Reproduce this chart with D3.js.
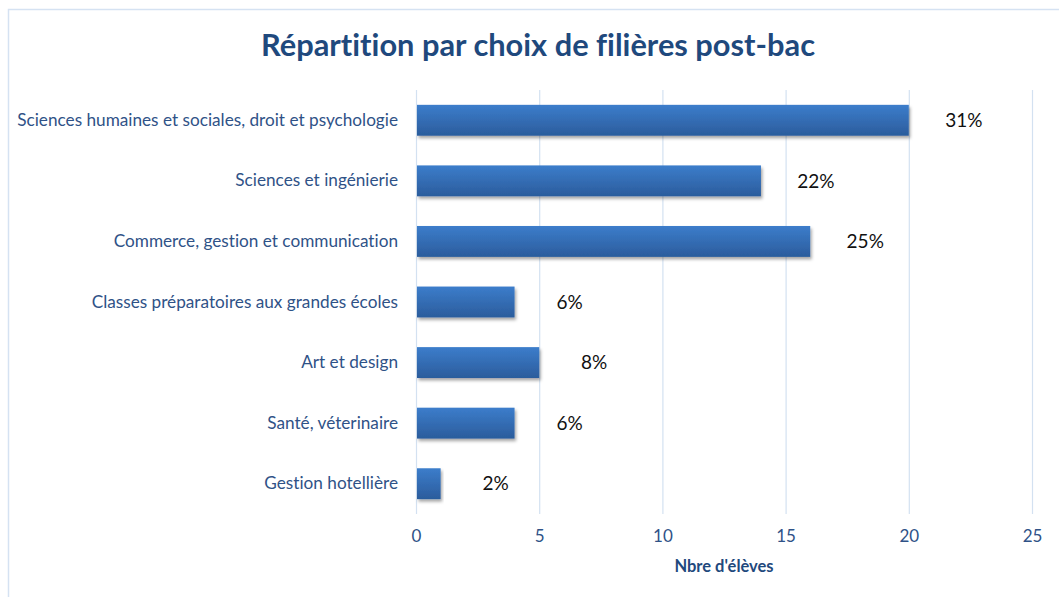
<!DOCTYPE html>
<html>
<head>
<meta charset="utf-8">
<script src="https://cdn.jsdelivr.net/npm/d3@7"></script>
<style>
  html, body { margin: 0; padding: 0; background: #fff; }
  svg { display: block; font-family: Lato, "Open Sans", sans-serif; font-variant-ligatures: none; }
</style>
</head>
<body>
<svg id="chart" width="1059" height="597"></svg>
<script>
// données
const categories = [
  "Sciences humaines et sociales, droit et psychologie",
  "Sciences et ingénierie",
  "Commerce, gestion et communication",
  "Classes préparatoires aux grandes écoles",
  "Art et design",
  "Santé, véterinaire",
  "Gestion hotellière"
];
const eleves = [20, 14, 16, 4, 5, 4, 1];
const pourcentages = ["31%", "22%", "25%", "6%", "8%", "6%", "2%"];
const ticks = [0, 5, 10, 15, 20, 25];

const svg = d3.select("#chart");
const m = { left: 416, right: 1032, top: 90, bottom: 514 };

const x = d3.scaleLinear().domain([0, 25]).range([m.left, m.right]);
const y = d3.scaleBand().domain(categories).range([m.top, m.bottom]).paddingInner(0.49).paddingOuter(0.245);

// cadre
svg.append("rect").attr("x", 8.5).attr("y", 9.5).attr("width", 1100).attr("height", 700)
  .attr("fill", "none").attr("stroke", "#d5e2f2").attr("stroke-width", 1.5);

const defs = svg.append("defs");
const grad = defs.append("linearGradient").attr("id", "barGrad").attr("x1", 0).attr("y1", 0).attr("x2", 0).attr("y2", 1);
grad.append("stop").attr("offset", "0%").attr("stop-color", "#3c7dcb");
grad.append("stop").attr("offset", "100%").attr("stop-color", "#2b5c9c");
const shadow = defs.append("filter").attr("id", "shadow").attr("x", "-5%").attr("y", "-20%").attr("width", "115%").attr("height", "160%");
shadow.append("feDropShadow").attr("dx", 1.5).attr("dy", 2.5).attr("stdDeviation", 1.6)
  .attr("flood-color", "#000").attr("flood-opacity", 0.35);

// titre
svg.append("text").attr("x", 538).attr("y", 56).attr("text-anchor", "middle")
  .attr("font-size", 30.8).attr("font-weight", "bold").attr("fill", "#1f497d")
  .text("Répartition par choix de filières post-bac");

// grille
svg.append("g").selectAll("line").data(ticks).join("line")
  .attr("x1", d => x(d) + 0.5).attr("x2", d => x(d) + 0.5)
  .attr("y1", m.top).attr("y2", m.bottom)
  .attr("stroke", "#d3e1f1").attr("stroke-width", 1.2);

// axe x
const xAxis = svg.append("g").attr("transform", `translate(0,${m.bottom})`)
  .call(d3.axisBottom(x).tickValues(ticks).tickSize(0).tickPadding(16));
xAxis.select(".domain").remove();
xAxis.selectAll("text").attr("font-size", 17).attr("fill", "#2f5287").attr("font-family", "Lato, sans-serif");

svg.append("text").attr("x", 724).attr("y", 572).attr("text-anchor", "middle")
  .attr("font-size", 16.5).attr("font-weight", "bold").attr("fill", "#1f497d")
  .text("Nbre d'élèves");

// axe y
const yAxis = svg.append("g").attr("transform", `translate(${m.left},0)`)
  .call(d3.axisLeft(y).tickSize(0).tickPadding(18));
yAxis.select(".domain").remove();
yAxis.selectAll("text").attr("font-size", 17.2).attr("fill", "#2f5287").attr("font-family", "Lato, sans-serif");

// barres
svg.append("g").selectAll("rect").data(eleves).join("rect")
  .attr("x", x(0) + 1).attr("y", (d, i) => y(categories[i]))
  .attr("width", d => x(d) - x(0) - 1).attr("height", y.bandwidth())
  .attr("fill", "url(#barGrad)").attr("filter", "url(#shadow)");

// étiquettes
svg.append("g").selectAll("text").data(eleves).join("text")
  .attr("x", d => x(d) + 55).attr("y", (d, i) => y(categories[i]) + y.bandwidth() / 2)
  .attr("dy", "0.35em").attr("text-anchor", "middle")
  .attr("font-size", 19).attr("fill", "#111")
  .text((d, i) => pourcentages[i]);
</script>
</body>
</html>
